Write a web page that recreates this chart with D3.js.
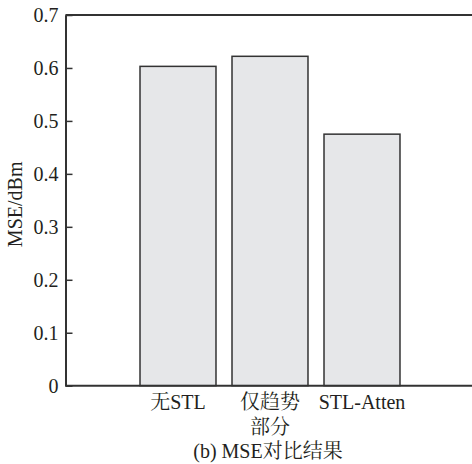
<!DOCTYPE html>
<html><head><meta charset="utf-8">
<script src="https://cdn.jsdelivr.net/npm/d3@7"></script>
</head>
<body style="margin:0;background:#fff"><svg id="c" width="472" height="464"></svg>
<script>
const categories = [["无STL"], ["仅趋势", "部分"], ["STL-Atten"]];
const values = [0.603, 0.622, 0.475];
const yTicks = [0, 0.1, 0.2, 0.3, 0.4, 0.5, 0.6, 0.7];
const yLabel = "MSE/dBm";
const caption = "(b) MSE对比结果";

const FONT = "'Liberation Serif', 'Noto Serif CJK SC', serif";
const FS = 20;
const TXT = "#231f20";
const svg = d3.select("#c");
const mLeft = 65.5, mRight = 472, mTop = 15, mBottom = 385.7;
const x = d3.scaleBand().domain(categories.map((d,i)=>i)).range([132, 408]).paddingInner(0.174).paddingOuter(0.087);
const y = d3.scaleLinear().domain([0, 0.7]).range([mBottom, mTop]);
const ink = "#333";

// bars
svg.selectAll("rect.bar").data(values).join("rect").attr("class","bar")
  .attr("x",(d,i)=>x(i)).attr("width",x.bandwidth())
  .attr("y",d=>y(d)).attr("height",d=>y(0)-y(d))
  .attr("fill","#e6e7e9").attr("stroke",ink).attr("stroke-width",1.5);

// frame lines
svg.append("line").attr("x1",mLeft).attr("x2",mRight).attr("y1",mTop).attr("y2",mTop).attr("stroke",ink).attr("stroke-width",2);
svg.append("line").attr("x1",mLeft).attr("x2",mRight).attr("y1",mBottom).attr("y2",mBottom).attr("stroke",ink).attr("stroke-width",2);

// y axis
const yAxis = d3.axisLeft(y).tickValues(yTicks).tickSizeInner(-7).tickSizeOuter(0).tickPadding(14)
  .tickFormat(d=>d===0?"0":d3.format(".1f")(d));
const ga = svg.append("g").attr("transform",`translate(${mLeft},0)`).call(yAxis);
ga.attr("font-family",FONT).attr("font-size",FS);
ga.select(".domain").attr("stroke",ink).attr("stroke-width",2);
ga.selectAll(".tick line").attr("stroke",ink).attr("stroke-width",1.5);
ga.selectAll(".tick text").attr("fill",TXT).attr("dx",7);

// x labels
categories.forEach((lines,i)=>{
  lines.forEach((t,j)=>{
    svg.append("text").attr("x",x(i)+x.bandwidth()/2).attr("y",409+j*25)
      .attr("text-anchor","middle").attr("font-family",FONT).attr("font-size",FS).attr("fill",TXT).text(t);
  });
});

// y label
svg.append("text").attr("transform",`translate(22,${(mTop+mBottom)/2+4}) rotate(-90)`)
  .attr("text-anchor","middle").attr("font-family",FONT).attr("font-size",FS).attr("fill",TXT).text(yLabel);

// caption
svg.append("text").attr("x",268).attr("y",458).attr("text-anchor","middle")
  .attr("font-family",FONT).attr("font-size",FS).attr("fill",TXT).text(caption);
</script></body></html>
